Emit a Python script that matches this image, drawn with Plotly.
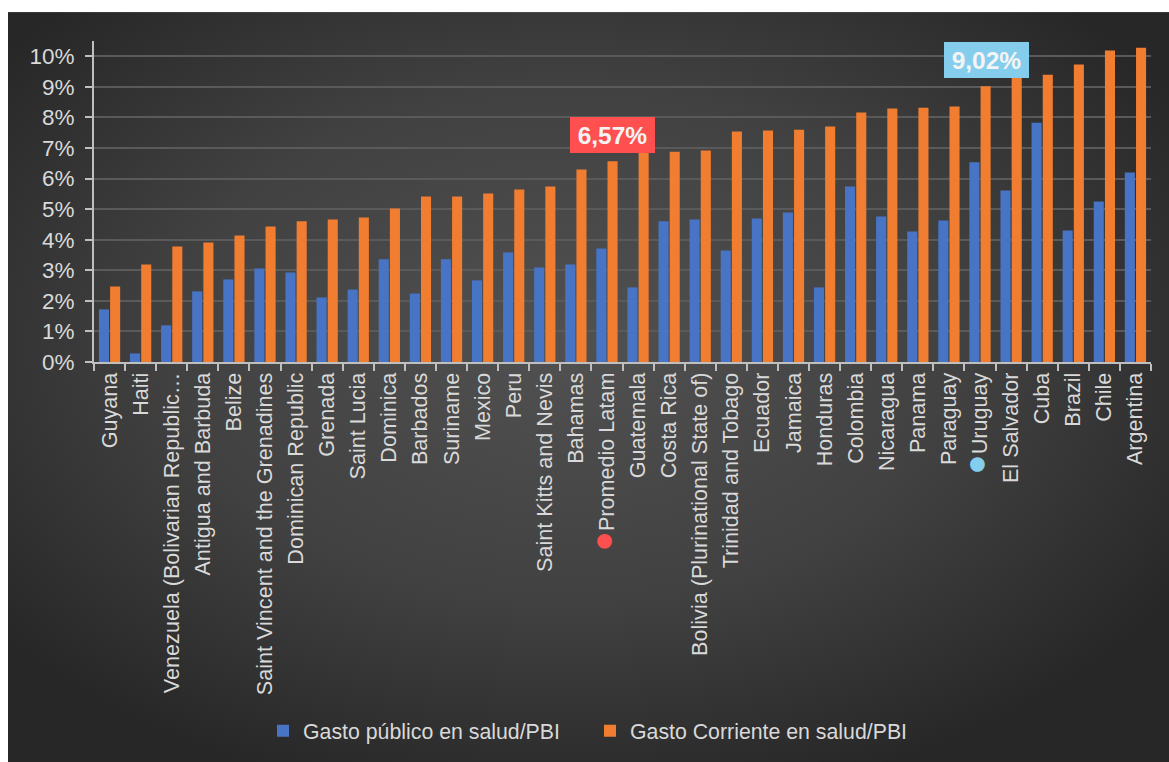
import plotly.graph_objects as go
from urllib.parse import quote

# ---------------- data ----------------
countries = [
    "Guyana", "Haiti", "Venezuela (Bolivarian Republic…", "Antigua and Barbuda", "Belize",
    "Saint Vincent and the Grenadines", "Dominican Republic", "Grenada", "Saint Lucia",
    "Dominica", "Barbados", "Suriname", "Mexico", "Peru", "Saint Kitts and Nevis",
    "Bahamas", "Promedio Latam", "Guatemala", "Costa Rica", "Bolivia (Plurinational State of)",
    "Trinidad and Tobago", "Ecuador", "Jamaica", "Honduras", "Colombia", "Nicaragua",
    "Panama", "Paraguay", "Uruguay", "El Salvador", "Cuba", "Brazil", "Chile", "Argentina",
]
gasto_publico = [
    1.72, 0.28, 1.20, 2.31, 2.70, 3.06, 2.93, 2.11, 2.37, 3.36, 2.24, 3.36, 2.67, 3.58,
    3.09, 3.19, 3.71, 2.44, 4.60, 4.66, 3.65, 4.69, 4.89, 2.44, 5.74, 4.76, 4.27, 4.63,
    6.53, 5.61, 7.83, 4.30, 5.25, 6.20,
]
gasto_corriente = [
    2.47, 3.19, 3.78, 3.91, 4.14, 4.43, 4.60, 4.66, 4.73, 5.02, 5.41, 5.41, 5.51, 5.64,
    5.74, 6.30, 6.57, 6.85, 6.88, 6.92, 7.54, 7.57, 7.60, 7.70, 8.16, 8.29, 8.32, 8.36,
    9.02, 9.30, 9.40, 9.73, 10.19, 10.28,
]
series_names = ["Gasto público en salud/PBI", "Gasto Corriente en salud/PBI"]
y_tick_values = [0, 1, 2, 3, 4, 5, 6, 7, 8, 9, 10]
y_tick_labels = [f"{v}%" for v in y_tick_values]
highlights = {"Promedio Latam": "#ff4f4f", "Uruguay": "#84cdec"}

# ---------------- style ----------------
FONT = "Liberation Sans, Arial, sans-serif"
TXT = "#d9d9d9"
AXIS = "#bfbfbf"
BLUE = "#4874c6"
ORANGE = "#f07d30"

tick_text = []
for c in countries:
    if c in highlights:
        tick_text.append(f"<span style='color:{highlights[c]};font-size:34px'>●</span>{c}")
    else:
        tick_text.append(c)

fig = go.Figure()
fig.add_trace(go.Bar(x=countries, y=gasto_publico, name=series_names[0],
                     marker=dict(color=BLUE, line=dict(width=0))))
fig.add_trace(go.Bar(x=countries, y=gasto_corriente, name=series_names[1],
                     marker=dict(color=ORANGE, line=dict(width=0))))

for c, col in highlights.items():
    i = countries.index(c)
    v = gasto_corriente[i]
    fig.add_annotation(
        x=c, y=v, xref="x", yref="y", xshift=6, yshift=8,
        xanchor="center", yanchor="bottom", showarrow=False,
        text=f"<b>{v:.2f}%</b>".replace(".", ","),
        font=dict(family=FONT, size=24.5, color="#f4f4f4"),
        bgcolor=col, borderpad=3, borderwidth=0, width=79, height=30,
    )

# radial-gradient background (inline SVG data URI)
svg = (
    "<svg xmlns='http://www.w3.org/2000/svg' width='1161' height='760' viewBox='0 0 1161 760' preserveAspectRatio='none'>"
    "<defs><radialGradient id='g' cx='0.48' cy='0.44' r='0.62'>"
    "<stop offset='0' stop-color='#515151'/>"
    "<stop offset='0.55' stop-color='#414141'/>"
    "<stop offset='1' stop-color='#272727'/>"
    "</radialGradient></defs>"
    "<rect width='1161' height='760' fill='url(#g)'/></svg>"
)
src = "data:image/svg+xml;charset=utf-8," + quote(svg)

W, H = 1169, 762
L, R, T, B = 94, 18, 41, 399
pw, ph = W - L - R, H - T - B
x0p = (8 - L) / pw
x1p = (W + 4 - L) / pw
y1p = (H - B - 12) / ph
y0p = (H - B - H - 8) / ph
fig.add_layout_image(
    source=src, xref="paper", yref="paper", x=x0p, y=y1p,
    sizex=x1p - x0p, sizey=y1p - y0p, xanchor="left", yanchor="top",
    sizing="stretch", layer="below",
)

fig.update_layout(
    width=W, height=H,
    margin=dict(l=L, r=R, t=T, b=B, pad=0),
    paper_bgcolor="white",
    plot_bgcolor="rgba(0,0,0,0)",
    barmode="group", bargap=0.28, bargroupgap=0.1,
    font=dict(family=FONT, color=TXT, size=20),
    showlegend=True,
    legend=dict(orientation="h", x=(263 - L) / pw, xanchor="left", y=(H - B - 731) / ph,
                yanchor="middle", font=dict(family=FONT, size=21.3, color=TXT),
                bgcolor="rgba(0,0,0,0)", itemclick=False, entrywidth=282,
                entrywidthmode="pixels"),
)
fig.update_xaxes(
    type="category", tickvals=countries, ticktext=tick_text, tickangle=-90,
    tickson="boundaries", ticks="outside", ticklen=7, tickwidth=2, tickcolor=AXIS,
    showline=True, linecolor=AXIS, linewidth=2, showgrid=False,
    tickfont=dict(family=FONT, size=21.6, color=TXT),
)
fig.update_yaxes(
    range=[0, 10.5], tickvals=y_tick_values, ticktext=y_tick_labels,
    ticks="outside", ticklen=7, tickwidth=2, tickcolor=AXIS,
    showline=True, linecolor=AXIS, linewidth=2,
    showgrid=True, gridcolor="#5a5a5a", gridwidth=1.5, zeroline=False,
    tickfont=dict(family=FONT, size=22.5, color=TXT), ticklabelstandoff=6,
)

fig.write_html("out.html")
